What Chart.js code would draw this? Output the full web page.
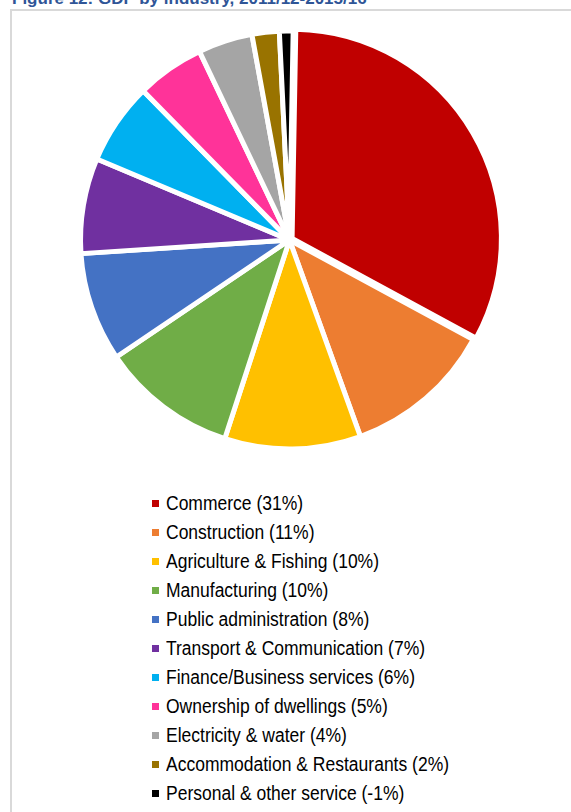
<!doctype html>
<html lang="en">

<head>
    <meta charset="utf-8">
    <meta name="viewport" content="width=device-width, initial-scale=1">
    <title>GDP by industry</title>
    <style>
        * {
            margin: 0;
            padding: 0;
        }

        body {
            width: 571px;
            height: 812px;
            overflow: hidden;
            position: relative;
            background: white;
            font-family: "Liberation Sans", Arial, sans-serif;
        }

        .figTitle {
            position: absolute;
            left: 12px;
            top: -10px;
            font-size: 17px;
            line-height: 17px;
            font-weight: bold;
            color: #2F5597;
            white-space: nowrap;
        }

        .frame {
            position: absolute;
            left: 10px;
            top: 9px;
            width: 600px;
            height: 850px;
            border: 2px solid #d9d9d9;
        }

        .chartBox {
            position: absolute;
            left: 0;
            top: 0;
            width: 571px;
            height: 480px;
        }

        .legend {
            position: absolute;
            left: 152px;
            top: 489px;
            list-style: none;
        }

        .legend li {
            height: 29px;
            line-height: 29px;
            font-size: 17.5px;
            color: #000;
            white-space: nowrap;
            display: flex;
            align-items: center;
        }

        .legend .swatch {
            width: 7px;
            height: 7px;
            margin-right: 7px;
            flex: none;
        }

        .legend .txt {
            display: inline-block;
            transform: scaleY(1.13);
        }
    </style>
</head>

<body>
    <div class="figTitle">Figure 12: GDP by industry, 2011/12-2015/16</div>
    <div class="frame"></div>
    <div class="chartBox">
        <canvas id="myChart"></canvas>
    </div>
    <ul class="legend" id="legend"></ul>

    <script src="https://cdn.jsdelivr.net/npm/chart.js"></script>

    <script>
        const industries = [
            'Commerce',
            'Construction',
            'Agriculture & Fishing',
            'Manufacturing',
            'Public administration',
            'Transport & Communication',
            'Finance/Business services',
            'Ownership of dwellings',
            'Electricity & water',
            'Accommodation & Restaurants',
            'Personal & other service'
        ]
        const shares = [31, 11, 10, 10, 8, 7, 6, 5, 4, 2, -1]
        const sliceColors = [
            '#C00000',
            '#ED7D31',
            '#FFC000',
            '#70AD47',
            '#4472C4',
            '#7030A0',
            '#00B0F0',
            '#FF3399',
            '#A5A5A5',
            '#997300',
            '#000000'
        ]
        // only the biggest slice is pulled out
        const offsets = [12, 0, 0, 0, 0, 0, 0, 0, 0, 0, 0]

        const labels = industries.map((name, i) => name + ' (' + shares[i] + '%)')

        // data block (pie sizes use |value|, so -1 shows as a thin slice)
        const data = {
            labels: labels,
            datasets: [{
                data: shares,
                backgroundColor: sliceColors,
                borderColor: '#ffffff',
                borderWidth: 5,
                offset: offsets
            }]
        };

        // config block
        const config = {
            type: 'pie',
            data: data,
            options: {
                responsive: true,
                maintainAspectRatio: false,
                animation: false,
                radius: 209,
                rotation: 1,
                layout: {
                    padding: { left: 8, right: 0, top: 0, bottom: 0 }
                },
                plugins: {
                    legend: { display: false },
                    tooltip: { enabled: false }
                }
            }
        };

        // init render block
        const myChart = new Chart(
            document.getElementById('myChart'),
            config
        );

        // one legend entry per row, below the pie
        const legendList = document.getElementById('legend')
        myChart.options.plugins.legend.labels.generateLabels(myChart).forEach(item => {
            const li = document.createElement('li')
            const box = document.createElement('span')
            box.className = 'swatch'
            box.style.background = item.fillStyle
            const txt = document.createElement('span')
            txt.className = 'txt'
            txt.textContent = item.text
            li.appendChild(box)
            li.appendChild(txt)
            legendList.appendChild(li)
        })
    </script>
</body>

</html>
